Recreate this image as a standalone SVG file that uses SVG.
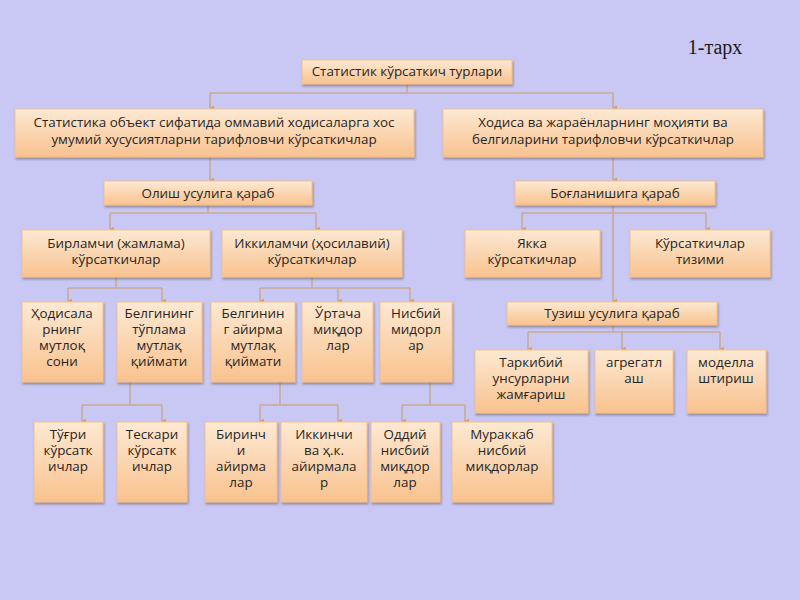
<svg xmlns="http://www.w3.org/2000/svg" width="800" height="600" viewBox="0 0 800 600">
<defs>
<linearGradient id="g" x1="0" y1="0" x2="0" y2="1">
<stop offset="0" stop-color="#fde9d3"/>
<stop offset="1" stop-color="#f9c28e"/>
</linearGradient>
<filter id="sh" x="-10%" y="-10%" width="120%" height="130%">
<feDropShadow dx="1" dy="2" stdDeviation="1" flood-color="#6a5a5a" flood-opacity="0.55"/>
</filter>
<marker id="ah" viewBox="0 0 8 8" refX="4" refY="7" markerWidth="5" markerHeight="5" orient="auto-start-reverse" markerUnits="userSpaceOnUse">
<path d="M0,0 L8,0 L4,8 Z" fill="#e59a5a"/>
</marker>
</defs>
<style>
.box{fill:url(#g);stroke:#f4c08c;stroke-width:1;filter:url(#sh)}
.t{font-family:"Open Sans","Noto Sans","DejaVu Sans",sans-serif;font-size:13.4px;fill:#262626;text-anchor:middle}
.c{fill:none;stroke:#c7ab93;stroke-width:1.6}
.a{fill:none;stroke:#c7ab93;stroke-width:1.6;marker-end:url(#ah)}
</style>
<rect width="800" height="600" fill="#c9c8f4"/>
<text x="715" y="54" font-family="Liberation Serif,serif" font-size="20" fill="#1a1a1a" text-anchor="middle">1-тарх</text>

<g id="connectors">
<path class="c" d="M407,84 V93 M210,93 H613"/>
<path class="a" d="M210,93 V108"/>
<path class="a" d="M613,93 V108"/>
<path class="a" d="M210,157 V180"/>
<path class="a" d="M613,157 V180"/>
<path class="c" d="M208,205 V213 M110,213 H316"/>
<path class="a" d="M110,213 V229"/>
<path class="a" d="M316,213 V229"/>
<path class="c" d="M522,213 H706"/>
<path class="a" d="M522,213 V229"/>
<path class="a" d="M706,213 V229"/>
<path class="a" d="M613,205 V301"/>
<path class="c" d="M116,277 V288 M68,288 H162"/>
<path class="a" d="M68,288 V301"/>
<path class="a" d="M162,288 V301"/>
<path class="c" d="M312,277 V288 M260,288 H410"/>
<path class="a" d="M260,288 V301"/>
<path class="a" d="M338,288 V301"/>
<path class="a" d="M410,288 V301"/>
<path class="c" d="M613,325 V332 M528,332 H720"/>
<path class="a" d="M528,332 V349"/>
<path class="a" d="M622,332 V349"/>
<path class="a" d="M720,332 V349"/>
<path class="c" d="M130,382 V405 M82,405 H162"/>
<path class="a" d="M82,405 V421"/>
<path class="a" d="M162,405 V421"/>
<path class="c" d="M280,382 V405 M260,405 H338"/>
<path class="a" d="M260,405 V421"/>
<path class="a" d="M338,405 V421"/>
<path class="c" d="M430,382 V405 M402,405 H465"/>
<path class="a" d="M402,405 V421"/>
<path class="a" d="M465,405 V421"/>
</g>

<g id="n-title"><rect class="box" x="302" y="60" width="210" height="24"/><text class="t" x="407" y="76">Статистик кўрсаткич турлари</text></g>

<g id="n-a"><rect class="box" x="15" y="109" width="399" height="48"/><text class="t" x="214" y="127">Статистика объект сифатида оммавий ходисаларга хос<tspan x="214" dy="17">умумий хусусиятларни тарифловчи кўрсаткичлар</tspan></text></g>
<g id="n-b"><rect class="box" x="443" y="109" width="320" height="48"/><text class="t" x="603" y="127">Ходиса ва жараёнларнинг моҳияти ва<tspan x="603" dy="17">белгиларини  тарифловчи кўрсаткичлар</tspan></text></g>

<g id="n-olish"><rect class="box" x="104" y="181" width="208" height="24"/><text class="t" x="208" y="198">Олиш усулига қараб</text></g>
<g id="n-boglan"><rect class="box" x="515" y="181" width="200" height="24"/><text class="t" x="615" y="198">Боғланишига қараб</text></g>

<g id="n-birlamchi"><rect class="box" x="22" y="230" width="188" height="47"/><text class="t" x="116" y="248">Бирламчи (жамлама)<tspan x="116" dy="16">кўрсаткичлар</tspan></text></g>
<g id="n-ikkilamchi"><rect class="box" x="222" y="230" width="180" height="47"/><text class="t" x="312" y="248">Иккиламчи (ҳосилавий)<tspan x="312" dy="16">кўрсаткичлар</tspan></text></g>
<g id="n-yakka"><rect class="box" x="465" y="230" width="135" height="47"/><text class="t" x="532" y="248">Якка<tspan x="532" dy="16">кўрсаткичлар</tspan></text></g>
<g id="n-tizimi"><rect class="box" x="630" y="230" width="140" height="47"/><text class="t" x="700" y="248">Кўрсаткичлар<tspan x="700" dy="16">тизими</tspan></text></g>

<g id="n-hodisa"><rect class="box" x="22" y="302" width="81" height="80"/><text class="t" x="62" y="318">Ҳодисала<tspan x="62" dy="16">рнинг</tspan><tspan x="62" dy="16">мутлоқ</tspan><tspan x="62" dy="16">сони</tspan></text></g>
<g id="n-tuplama"><rect class="box" x="117" y="302" width="85" height="80"/><text class="t" x="159" y="318">Белгининг<tspan x="159" dy="16">тўплама</tspan><tspan x="159" dy="16">мутлақ</tspan><tspan x="159" dy="16">қиймати</tspan></text></g>
<g id="n-ayirma"><rect class="box" x="211" y="302" width="84" height="80"/><text class="t" x="253" y="318">Белгинин<tspan x="253" dy="16">г айирма</tspan><tspan x="253" dy="16">мутлақ</tspan><tspan x="253" dy="16">қиймати</tspan></text></g>
<g id="n-urtacha"><rect class="box" x="302" y="302" width="71" height="80"/><text class="t" x="338" y="318">Ўртача<tspan x="338" dy="16">миқдор</tspan><tspan x="338" dy="16">лар</tspan></text></g>
<g id="n-nisbiy"><rect class="box" x="380" y="302" width="72" height="80"/><text class="t" x="416" y="318">Нисбий<tspan x="416" dy="16">мидорл</tspan><tspan x="416" dy="16">ар</tspan></text></g>
<g id="n-tuzish"><rect class="box" x="507" y="302" width="210" height="23"/><text class="t" x="612" y="318">Тузиш усулига қараб</text></g>

<g id="n-tarkibiy"><rect class="box" x="475" y="350" width="113" height="63"/><text class="t" x="531" y="367">Таркибий<tspan x="531" dy="16">унсурларни</tspan><tspan x="531" dy="16">жамғариш</tspan></text></g>
<g id="n-agregat"><rect class="box" x="595" y="350" width="78" height="63"/><text class="t" x="634" y="367">агрегатл<tspan x="634" dy="16">аш</tspan></text></g>
<g id="n-model"><rect class="box" x="687" y="350" width="79" height="63"/><text class="t" x="726" y="367">моделла<tspan x="726" dy="16">штириш</tspan></text></g>

<g id="n-tugri"><rect class="box" x="34" y="422" width="69" height="80"/><text class="t" x="68" y="439">Тўғри<tspan x="68" dy="16">кўрсатк</tspan><tspan x="68" dy="16">ичлар</tspan></text></g>
<g id="n-teskari"><rect class="box" x="117" y="422" width="70" height="80"/><text class="t" x="152" y="439">Тескари<tspan x="152" dy="16">кўрсатк</tspan><tspan x="152" dy="16">ичлар</tspan></text></g>
<g id="n-birinchi"><rect class="box" x="205" y="422" width="72" height="80"/><text class="t" x="241" y="439">Биринч<tspan x="241" dy="16">и</tspan><tspan x="241" dy="16">айирма</tspan><tspan x="241" dy="16">лар</tspan></text></g>
<g id="n-ikkinchi"><rect class="box" x="281" y="422" width="86" height="80"/><text class="t" x="324" y="439">Иккинчи<tspan x="324" dy="16">ва ҳ.к.</tspan><tspan x="324" dy="16">айирмала</tspan><tspan x="324" dy="16">р</tspan></text></g>
<g id="n-oddiy"><rect class="box" x="371" y="422" width="69" height="80"/><text class="t" x="405" y="439">Оддий<tspan x="405" dy="16">нисбий</tspan><tspan x="405" dy="16">миқдор</tspan><tspan x="405" dy="16">лар</tspan></text></g>
<g id="n-murakkab"><rect class="box" x="452" y="422" width="100" height="80"/><text class="t" x="502" y="439">Мураккаб<tspan x="502" dy="16">нисбий</tspan><tspan x="502" dy="16">миқдорлар</tspan></text></g>
</svg>
